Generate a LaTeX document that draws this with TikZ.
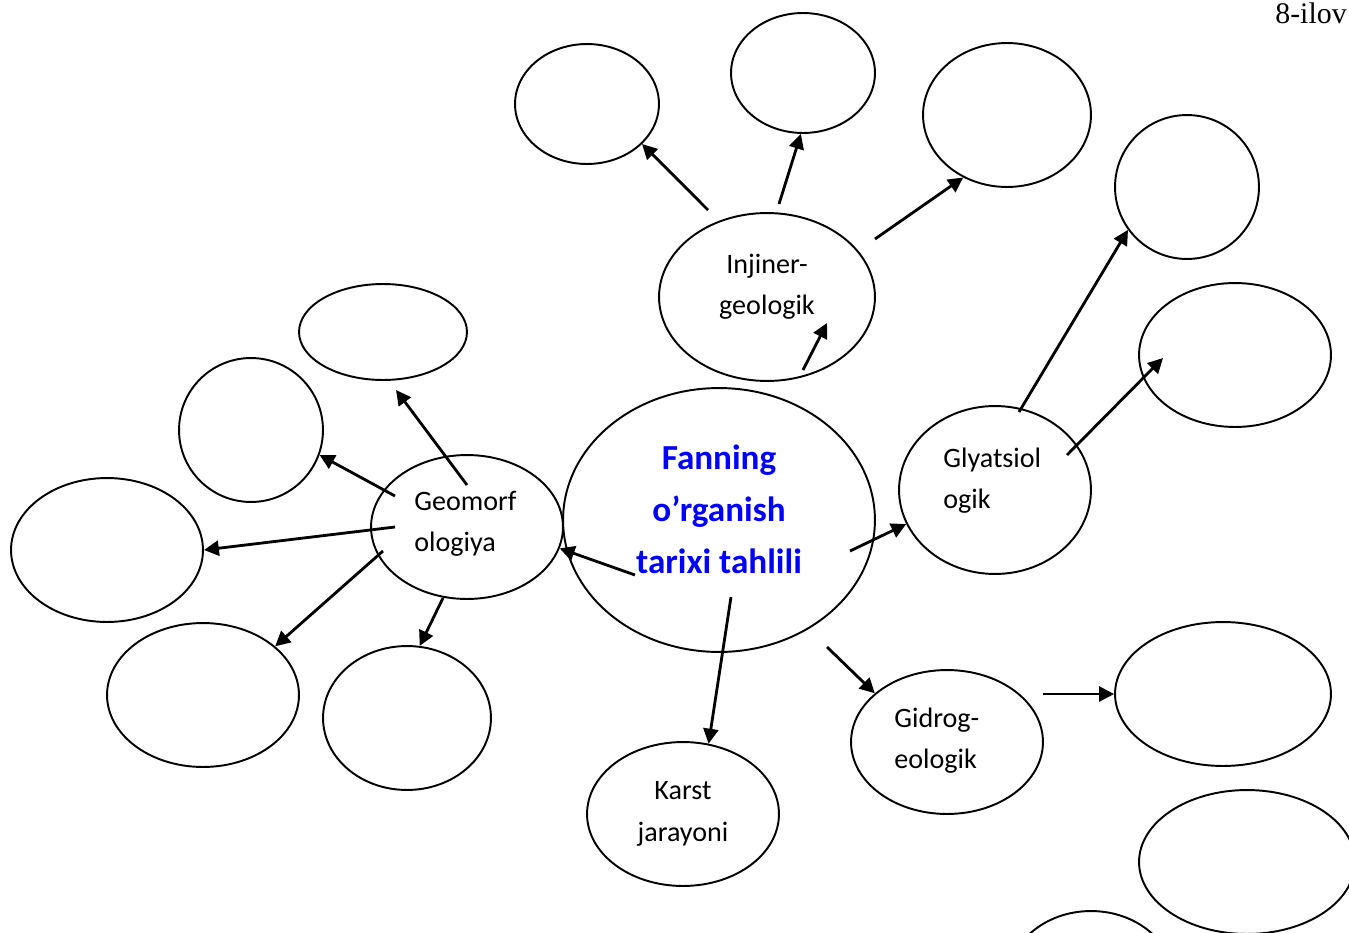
\documentclass[tikz,border=0pt]{standalone}
\usepackage{fontspec}
\setmainfont{Carlito}
\newfontfamily\timesf{Liberation Serif}
\usetikzlibrary{shapes.geometric,arrows.meta}
\definecolor{tblue}{RGB}{0,0,255}
\begin{document}
\begin{tikzpicture}[x=0.02cm,y=-0.02cm,
  el/.style 2 args={ellipse,draw,line width=1.1pt,inner sep=0pt,minimum width=#1*0.04cm,minimum height=#2*0.04cm},
  arr/.style={line width=1.6pt,-{Triangle[length=8.5pt,width=8.5pt]}},
  lbl/.style={font=\fontsize{16}{23.5}\selectfont,inner sep=0pt},
  ]
\useasboundingbox (0,0) rectangle (1349,933);
\clip (0,0) rectangle (1349,933);
% ellipses
\node[el={72}{60}] (e1) at (587,104) {};
\node[el={72}{60}] (e2) at (803,73) {};
\node[el={84}{72}] (e3) at (1007,115) {};
\node[el={72}{72}] (e4) at (1187,187) {};
\node[el={96}{72}] (e5) at (1235,355) {};
\node[el={108}{84}] (inj) at (767,297) {};
\node[el={156}{132}] (cen) at (719,520) {};
\node[el={96}{84}] (gly) at (995,490) {};
\node[el={96}{72}] (gid) at (947,742) {};
\node[el={108}{72}] (e10) at (1223,694) {};
\node[el={108}{72}] (e11) at (1247,862) {};
\node[el={84}{72}] (e12) at (1091,983) {};
\node[el={96}{72}] (kar) at (683,814) {};
\node[el={96}{72}] (geo) at (467,527) {};
\node[el={84}{48}] (e15) at (383,332) {};
\node[el={72}{72}] (e16) at (251,430) {};
\node[el={96}{72}] (e17) at (107,550) {};
\node[el={96}{72}] (e18) at (203,695) {};
\node[el={84}{72}] (e19) at (407,718) {};
% labels
\node[lbl,align=center] (tinj) at (767,287) {Injiner-\\geologik};
\node[lbl,align=left,anchor=west] (tgly) at (943,481) {Glyatsiol\\ogik};
\node[lbl,align=left,anchor=west] (tgid) at (894,741) {Gidrog-\\eologik};
\node[lbl,align=center] (tkar) at (683,814) {Karst\\jarayoni};
\node[lbl,align=left,anchor=west] (tgeo) at (414,524) {Geomorf\\ologiya};
\node[font=\fontsize{20}{29.5}\selectfont\bfseries,text=tblue,align=center,inner sep=0pt] (tcen) at (719,509) {Fanning\\o’rganish\\tarixi tahlili};
\node[font=\timesf\fontsize{17}{20}\selectfont,anchor=base west,inner sep=0pt] (ilova) at (1275,24) {8-ilov};
% start / free-end coordinates
\coordinate (s1) at (708,210);
\coordinate (s2) at (779,204);
\coordinate (s3) at (875,239);
\coordinate (s4) at (803,370);
\coordinate (f4) at (827,323);
\coordinate (s5) at (1019,412);
\coordinate (s6) at (1067,455);
\coordinate (f6) at (1163,358);
\coordinate (s7) at (850,551);
\coordinate (s8) at (635,575);
\coordinate (s9) at (731,597);
\coordinate (s10) at (827,647);
\coordinate (s11) at (1043,694);
\coordinate (s12) at (467,485);
\coordinate (f12) at (396,390);
\coordinate (s13) at (395,496);
\coordinate (s14) at (395,527);
\coordinate (s15) at (383,551);
\coordinate (s16) at (443,598);
% arrows
\draw[arr] (s1) -- (e1.-36);
\draw[arr] (s2) -- (e2.-92);
\draw[arr] (s3) -- (e3.-125);
\draw[arr] (s4) -- (f4);
\draw[arr] (s5) -- (e4.-144);
\draw[arr] (s6) -- (f6);
\draw[arr] (s7) -- (gly.-159);
\draw[arr] (s8) -- (geo.-13);
\draw[arr] (s9) -- (kar.70);
\draw[arr] (s10) -- (gid.146);
\draw[arr] (s11) -- (e10.west);
\draw[arr] (s12) -- (f12);
\draw[arr] (s13) -- (e16.-20);
\draw[arr] (s14) -- (e17.east);
\draw[arr] (s15) -- (e18.34);
\draw[arr] (s16) -- (e19.80);
\end{tikzpicture}
\end{document}
